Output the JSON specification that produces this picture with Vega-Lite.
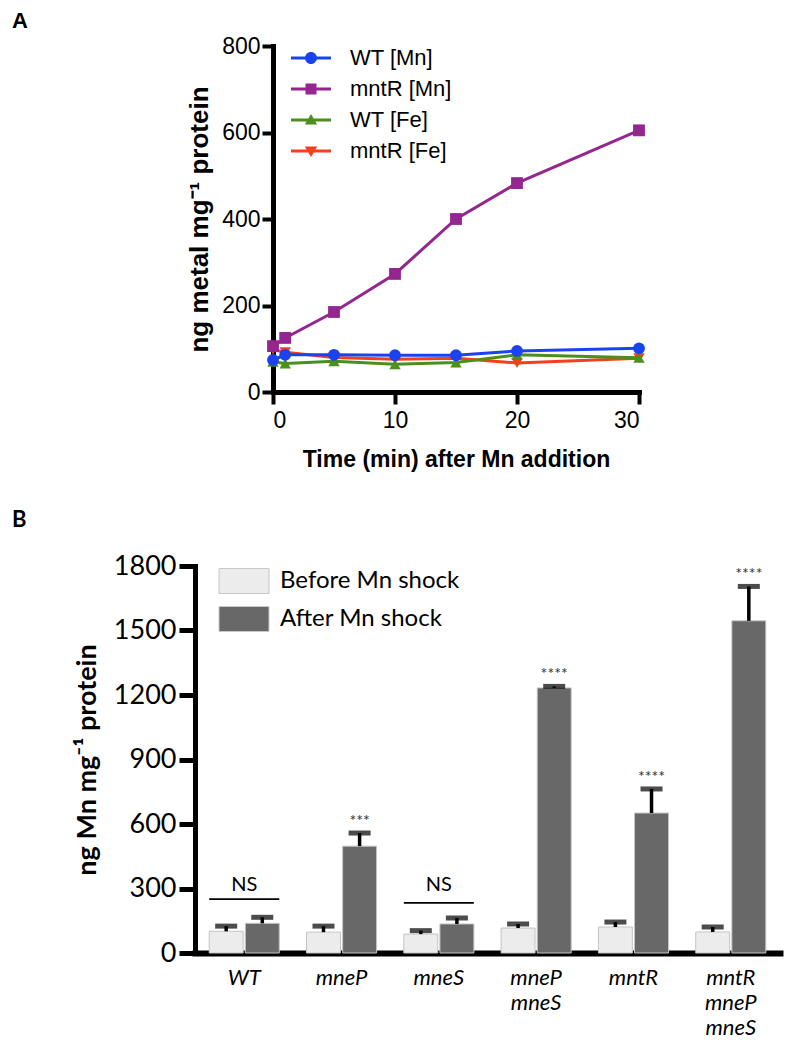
{
  "$schema": "https://vega.github.io/schema/vega-lite/v6.json",
  "background": "white",
  "padding": {"left": 12, "top": 10, "right": 4, "bottom": 4},
  "config": {"view": {"stroke": null}},
  "columns": 1,
  "align": "none",
  "spacing": 38,
  "resolve": {"scale": {"color": "independent", "fill": "independent", "shape": "independent"}, "legend": {"color": "independent", "fill": "independent", "shape": "independent"}},
  "concat": [
    {
      "width": 444,
      "height": 346,
      "title": {"text": "A", "anchor": "start", "frame": "group", "dx": -183, "font": "Liberation Sans", "fontSize": 22, "fontWeight": "bold", "color": "black", "offset": 2},
      "data": {"values": [
        {"series": "mntR [Fe]", "time": 0, "value": 98},
        {"series": "mntR [Fe]", "time": 1, "value": 92},
        {"series": "mntR [Fe]", "time": 5, "value": 80},
        {"series": "mntR [Fe]", "time": 10, "value": 76},
        {"series": "mntR [Fe]", "time": 15, "value": 78},
        {"series": "mntR [Fe]", "time": 20, "value": 67},
        {"series": "mntR [Fe]", "time": 30, "value": 78},
        {"series": "WT [Fe]", "time": 0, "value": 70},
        {"series": "WT [Fe]", "time": 1, "value": 66},
        {"series": "WT [Fe]", "time": 5, "value": 71},
        {"series": "WT [Fe]", "time": 10, "value": 64},
        {"series": "WT [Fe]", "time": 15, "value": 68},
        {"series": "WT [Fe]", "time": 20, "value": 86},
        {"series": "WT [Fe]", "time": 30, "value": 79},
        {"series": "mntR [Mn]", "time": 0, "value": 106},
        {"series": "mntR [Mn]", "time": 1, "value": 125},
        {"series": "mntR [Mn]", "time": 5, "value": 185},
        {"series": "mntR [Mn]", "time": 10, "value": 273},
        {"series": "mntR [Mn]", "time": 15, "value": 400},
        {"series": "mntR [Mn]", "time": 20, "value": 483},
        {"series": "mntR [Mn]", "time": 30, "value": 605},
        {"series": "WT [Mn]", "time": 0, "value": 74},
        {"series": "WT [Mn]", "time": 1, "value": 86},
        {"series": "WT [Mn]", "time": 5, "value": 86},
        {"series": "WT [Mn]", "time": 10, "value": 85},
        {"series": "WT [Mn]", "time": 15, "value": 85},
        {"series": "WT [Mn]", "time": 20, "value": 95},
        {"series": "WT [Mn]", "time": 30, "value": 101}
      ]},
      "encoding": {
        "x": {"field": "time", "type": "quantitative",
          "scale": {"domain": [0, 30], "range": [78, 444], "nice": false, "zero": false},
          "axis": {"values": [0, 10, 20, 30], "grid": false, "domainColor": "black", "domainWidth": 5, "domainCap": "square",
            "tickColor": "black", "tickWidth": 4, "tickSize": 12, "labelFont": "Liberation Sans", "labelFontSize": 23, "labelColor": "black",
            "labelPadding": 5, "title": "Time (min) after Mn addition", "titleFont": "Liberation Sans", "titleFontSize": 23, "titleFontWeight": "bold",
            "titleColor": "black", "titlePadding": 16}},
        "y": {"field": "value", "type": "quantitative",
          "scale": {"domain": [0, 800], "nice": false},
          "axis": {"offset": -78, "values": [0, 200, 400, 600, 800], "grid": false, "domainColor": "black", "domainWidth": 5, "domainCap": "square",
            "tickColor": "black", "tickWidth": 4, "tickSize": 11, "labelFont": "Liberation Sans", "labelFontSize": 23, "labelColor": "black",
            "labelPadding": 2, "title": "ng metal mg⁻¹ protein", "titleFont": "Liberation Sans", "titleFontSize": 26, "titleFontWeight": "bold",
            "titleColor": "black", "titlePadding": 9}},
        "color": {"field": "series", "type": "nominal",
          "scale": {"domain": ["WT [Mn]", "mntR [Mn]", "WT [Fe]", "mntR [Fe]"], "range": ["#1a43ee", "#93278f", "#4b8f1e", "#f2401c"]},
          "legend": {"orient": "none", "legendX": 105, "legendY": 1, "title": null, "padding": 0,
            "labelFont": "Liberation Sans", "labelFontSize": 22, "labelColor": "black", "labelOffset": 28,
            "symbolSize": 400, "rowPadding": 9, "symbolStrokeWidth": 0}}
      },
      "layer": [
        {"mark": {"type": "line", "strokeWidth": 3}},
        {"transform": [{"filter": "datum.time < 0"}],
          "mark": {"type": "point", "filled": true, "opacity": 1},
          "encoding": {"shape": {"field": "series", "type": "nominal",
            "scale": {"domain": ["WT [Mn]", "mntR [Mn]", "WT [Fe]", "mntR [Fe]"],
              "range": ["M-2,-0.14H2V0.14H-2Z M-0.6,0A0.6,0.6 0 1,1 0.6,0A0.6,0.6 0 1,1 -0.6,0Z", "M-2,-0.14H2V0.14H-2Z M-0.55,-0.55H0.55V0.55H-0.55Z", "M-2,-0.14H2V0.14H-2Z M0,-0.6L0.62,0.45L-0.62,0.45Z", "M-2,-0.14H2V0.14H-2Z M-0.62,-0.45L0.62,-0.45L0,0.6Z"]},
            "legend": {"orient": "none", "legendX": 105, "legendY": 1, "title": null, "padding": 0,
              "labelFont": "Liberation Sans", "labelFontSize": 22, "labelColor": "black", "labelOffset": 28,
              "symbolSize": 400, "rowPadding": 9, "symbolStrokeWidth": 0}}}},
        {"transform": [{"filter": {"field": "series", "equal": "mntR [Fe]"}}],
          "mark": {"type": "point", "filled": true, "opacity": 1, "size": 130, "shape": "triangle-down"}},
        {"transform": [{"filter": {"field": "series", "equal": "WT [Fe]"}}],
          "mark": {"type": "point", "filled": true, "opacity": 1, "size": 130, "shape": "triangle-up"}},
        {"transform": [{"filter": {"field": "series", "equal": "mntR [Mn]"}}],
          "mark": {"type": "point", "filled": true, "opacity": 1, "size": 140, "shape": "square"}},
        {"transform": [{"filter": {"field": "series", "equal": "WT [Mn]"}}],
          "mark": {"type": "point", "filled": true, "opacity": 1, "size": 140, "shape": "circle"}}
      ]
    },
    {
      "width": 585,
      "height": 387,
      "title": {"text": "B", "anchor": "start", "frame": "group", "dx": -183, "font": "Lato", "fontSize": 22, "fontWeight": "bold", "color": "black", "offset": 20},
      "layer": [
        {
          "data": {"name": "bars", "values": [
            {"group": "WT", "cond": "Before Mn shock", "value": 101, "err": 125, "sig": ""},
            {"group": "WT", "cond": "After Mn shock", "value": 138, "err": 166, "sig": ""},
            {"group": "mneP", "cond": "Before Mn shock", "value": 97, "err": 125, "sig": ""},
            {"group": "mneP", "cond": "After Mn shock", "value": 497, "err": 558, "sig": "***"},
            {"group": "mneS", "cond": "Before Mn shock", "value": 88, "err": 104, "sig": ""},
            {"group": "mneS", "cond": "After Mn shock", "value": 135, "err": 163, "sig": ""},
            {"group": "mneP mneS", "cond": "Before Mn shock", "value": 116, "err": 135, "sig": ""},
            {"group": "mneP mneS", "cond": "After Mn shock", "value": 1233, "err": 1240, "sig": "****"},
            {"group": "mntR", "cond": "Before Mn shock", "value": 121, "err": 144, "sig": ""},
            {"group": "mntR", "cond": "After Mn shock", "value": 651, "err": 763, "sig": "****"},
            {"group": "mntR mneP mneS", "cond": "Before Mn shock", "value": 98, "err": 121, "sig": ""},
            {"group": "mntR mneP mneS", "cond": "After Mn shock", "value": 1545, "err": 1705, "sig": "****"}
          ]},
          "encoding": {
            "x": {"field": "group", "type": "nominal",
              "scale": {"domain": ["WT", "mneP", "mneS", "mneP mneS", "mntR", "mntR mneP mneS"], "paddingInner": 0.28, "paddingOuter": 0.146},
              "axis": {"title": null, "ticks": false, "domainColor": "black", "domainWidth": 6, "domainCap": "square", "labelAngle": 0,
                "labelFont": "Lato", "labelFontStyle": "italic", "labelFontSize": 22, "labelColor": "black", "labelPadding": 14,
                "labelLineHeight": 25, "labelExpr": "split(datum.label, ' ')"}},
            "xOffset": {"field": "cond", "type": "nominal", "scale": {"domain": ["Before Mn shock", "After Mn shock"], "paddingInner": 0.06}},
            "y": {"field": "value", "type": "quantitative",
              "scale": {"domain": [0, 1800], "nice": false},
              "axis": {"values": [0, 300, 600, 900, 1200, 1500, 1800], "format": "d", "grid": false, "domainColor": "black", "domainWidth": 5, "domainCap": "square",
                "tickColor": "black", "tickWidth": 5, "tickSize": 16, "labelFont": "Lato", "labelFontSize": 27, "labelColor": "black",
                "labelPadding": 3, "title": "ng Mn mg⁻¹ protein", "titleFont": "Lato", "titleFontSize": 27, "titleFontWeight": "bold",
                "titleColor": "black", "titlePadding": 12}}
          },
          "layer": [
            {"mark": {"type": "bar", "stroke": "#c4c4c4", "strokeWidth": 1},
              "encoding": {"fill": {"field": "cond", "type": "nominal",
                "scale": {"domain": ["Before Mn shock", "After Mn shock"], "range": ["#ececec", "#686868"]},
                "legend": {"orient": "none", "legendX": 36, "legendY": 2, "title": null, "padding": 0,
                  "symbolType": "M-2,-1H2V1H-2Z", "symbolSize": 625, "symbolStrokeColor": "#c8c8c8", "symbolStrokeWidth": 1,
                  "labelFont": "Lato", "labelFontSize": 24, "labelColor": "black", "labelOffset": 23, "labelLimit": 400, "rowPadding": 8}}}},
            {"mark": {"type": "rule", "color": "black", "strokeWidth": 3.5},
              "encoding": {"y2": {"field": "err"}}},
            {"mark": {"type": "tick", "color": "black", "thickness": 5, "size": 22},
              "encoding": {"y": {"field": "err", "type": "quantitative"}}},
            {"mark": {"type": "text", "font": "Lato", "fontSize": 16, "color": "#333333", "dy": -12, "baseline": "middle"},
              "encoding": {"y": {"field": "err", "type": "quantitative"}, "text": {"field": "sig"}}}
          ]
        },
        {
          "data": {"name": "ns", "values": [
            {"group": "WT", "lo": 247, "hi": 255, "ty": 316, "label": "NS"},
            {"group": "mneS", "lo": 229, "hi": 237, "ty": 316, "label": "NS"}
          ]},
          "layer": [
            {"mark": {"type": "bar", "color": "black"},
              "encoding": {"x": {"field": "group", "type": "nominal"}, "y": {"field": "lo", "type": "quantitative"}, "y2": {"field": "hi"}}},
            {"mark": {"type": "text", "font": "Lato", "fontSize": 20, "color": "black", "baseline": "middle"},
              "encoding": {"x": {"field": "group", "type": "nominal"}, "y": {"field": "ty", "type": "quantitative"}, "text": {"field": "label"}}}
          ]
        }
      ]
    }
  ]
}
